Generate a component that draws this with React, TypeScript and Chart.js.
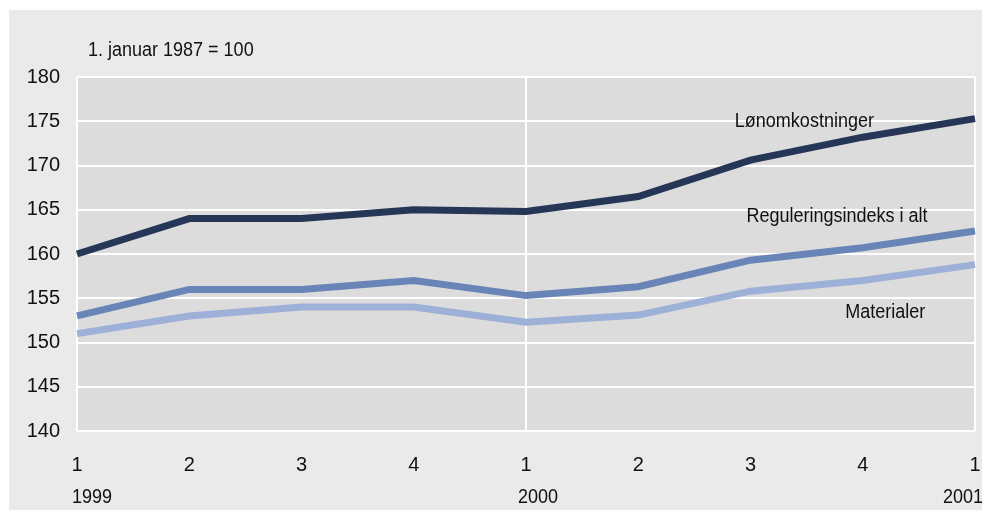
import React, { useEffect, useRef } from "react";
import { Chart, registerables } from "chart.js";

Chart.register(...registerables);

const quarterLabels = ["1", "2", "3", "4", "1", "2", "3", "4", "1"];
const yearLabels: { index: number; text: string; dx: number }[] = [
  { index: 0, text: "1999", dx: -5 },
  { index: 4, text: "2000", dx: -8 },
  { index: 8, text: "2001", dx: -32 },
];
const lonomkostninger = [160, 164, 164, 165, 164.8, 166.5, 170.6, 173.2, 175.3];
const reguleringsindeks = [153, 156, 156, 157, 155.3, 156.3, 159.3, 160.7, 162.6];
const materialer = [151, 153, 154, 154, 152.3, 153.1, 155.8, 157.0, 158.8];
const seriesNames = ["Lønomkostninger", "Reguleringsindeks i alt", "Materialer"];
const seriesColors = ["#253656", "#6985b8", "#9db0d7"];
// label anchors in data coordinates (x index, y value)
const labelAnchors = [
  { x: 6.48, y: 175.0 },
  { x: 6.77, y: 164.2 },
  { x: 7.2, y: 153.4 },
];
const unitNote = "1. januar 1987 = 100";

const FONT = "'Liberation Sans', Arial, sans-serif";
const SQUEEZE = 0.9;

export default function App() {
  const ref = useRef<HTMLCanvasElement | null>(null);

  useEffect(() => {
    if (!ref.current) return;
    const bgPlugin = {
      id: "plotBg",
      beforeDraw(chart: any) {
        const { ctx, chartArea } = chart;
        ctx.save();
        ctx.fillStyle = "#dcdcdc";
        ctx.fillRect(chartArea.left, chartArea.top, chartArea.right - chartArea.left, chartArea.bottom - chartArea.top);
        ctx.restore();
      },
    };
    const drawText = (ctx: any, text: string, x: number, y: number, align: "left" | "center") => {
      const w = ctx.measureText(text).width * SQUEEZE;
      const left = align === "center" ? x - w / 2 : x;
      ctx.save();
      ctx.translate(left, y);
      ctx.scale(SQUEEZE, 1);
      ctx.textAlign = "left";
      ctx.fillText(text, 0, 0);
      ctx.restore();
    };
    const textPlugin = {
      id: "texts",
      afterDraw(chart: any) {
        const { ctx, chartArea } = chart;
        const xs = chart.scales.x;
        const ys = chart.scales.y;
        ctx.save();
        ctx.fillStyle = "#111";
        ctx.textBaseline = "middle";
        ctx.font = `20px ${FONT}`;
        drawText(ctx, unitNote, chartArea.left + 11, chartArea.top - 27, "left");
        labelAnchors.forEach((a, i) => {
          drawText(ctx, seriesNames[i], xs.getPixelForValue(a.x), ys.getPixelForValue(a.y), "center");
        });
        yearLabels.forEach((y) => {
          drawText(ctx, y.text, xs.getPixelForValue(y.index) + y.dx, chartArea.bottom + 66, "left");
        });
        ctx.restore();
      },
    };
    const makeDs = (label: string, data: number[], color: string) => ({
      label,
      data,
      borderColor: color,
      backgroundColor: color,
      borderWidth: 7,
      pointRadius: 0,
      tension: 0,
      borderJoinStyle: "miter" as const,
      borderCapStyle: "butt" as const,
    });
    const chart = new Chart(ref.current, {
      type: "line",
      data: {
        labels: quarterLabels,
        datasets: [
          makeDs(seriesNames[0], lonomkostninger, seriesColors[0]),
          makeDs(seriesNames[1], reguleringsindeks, seriesColors[1]),
          makeDs(seriesNames[2], materialer, seriesColors[2]),
        ],
      },
      options: {
        animation: false,
        responsive: true,
        maintainAspectRatio: false,
        layout: { padding: { top: 67, right: 7, left: 0, bottom: 0 } },
        plugins: { legend: { display: false }, tooltip: { enabled: false } },
        scales: {
          x: {
            type: "category",
            offset: false,
            border: { display: false },
            grid: {
              drawTicks: false,
              lineWidth: 2,
              color: (c: any) => (c.index === 0 || c.index === 4 || c.index === 8 ? "#ffffff" : "rgba(0,0,0,0)"),
            },
            ticks: {
              color: "#111",
              font: { family: FONT, size: 20 },
              padding: 22,
              maxRotation: 0,
              autoSkip: false,
            },
            afterFit: (s: any) => {
              s.height = 79;
              s.paddingLeft = 0;
              s.paddingRight = 0;
            },
          },
          y: {
            min: 140,
            max: 180,
            border: { display: false },
            grid: { drawTicks: false, lineWidth: 2, color: "#ffffff" },
            ticks: {
              stepSize: 5,
              color: "#111",
              font: { family: FONT, size: 20 },
              padding: 17,
            },
            afterFit: (s: any) => {
              s.width = 68;
              s.paddingTop = 0;
              s.paddingBottom = 0;
            },
          },
        },
      },
      plugins: [bgPlugin, textPlugin],
    });
    return () => chart.destroy();
  }, []);

  return (
    <div
      style={{
        position: "fixed",
        left: 9,
        top: 10,
        width: 973,
        height: 500,
        background: "#eaeaea",
      }}
    >
      <canvas ref={ref} />
    </div>
  );
}
